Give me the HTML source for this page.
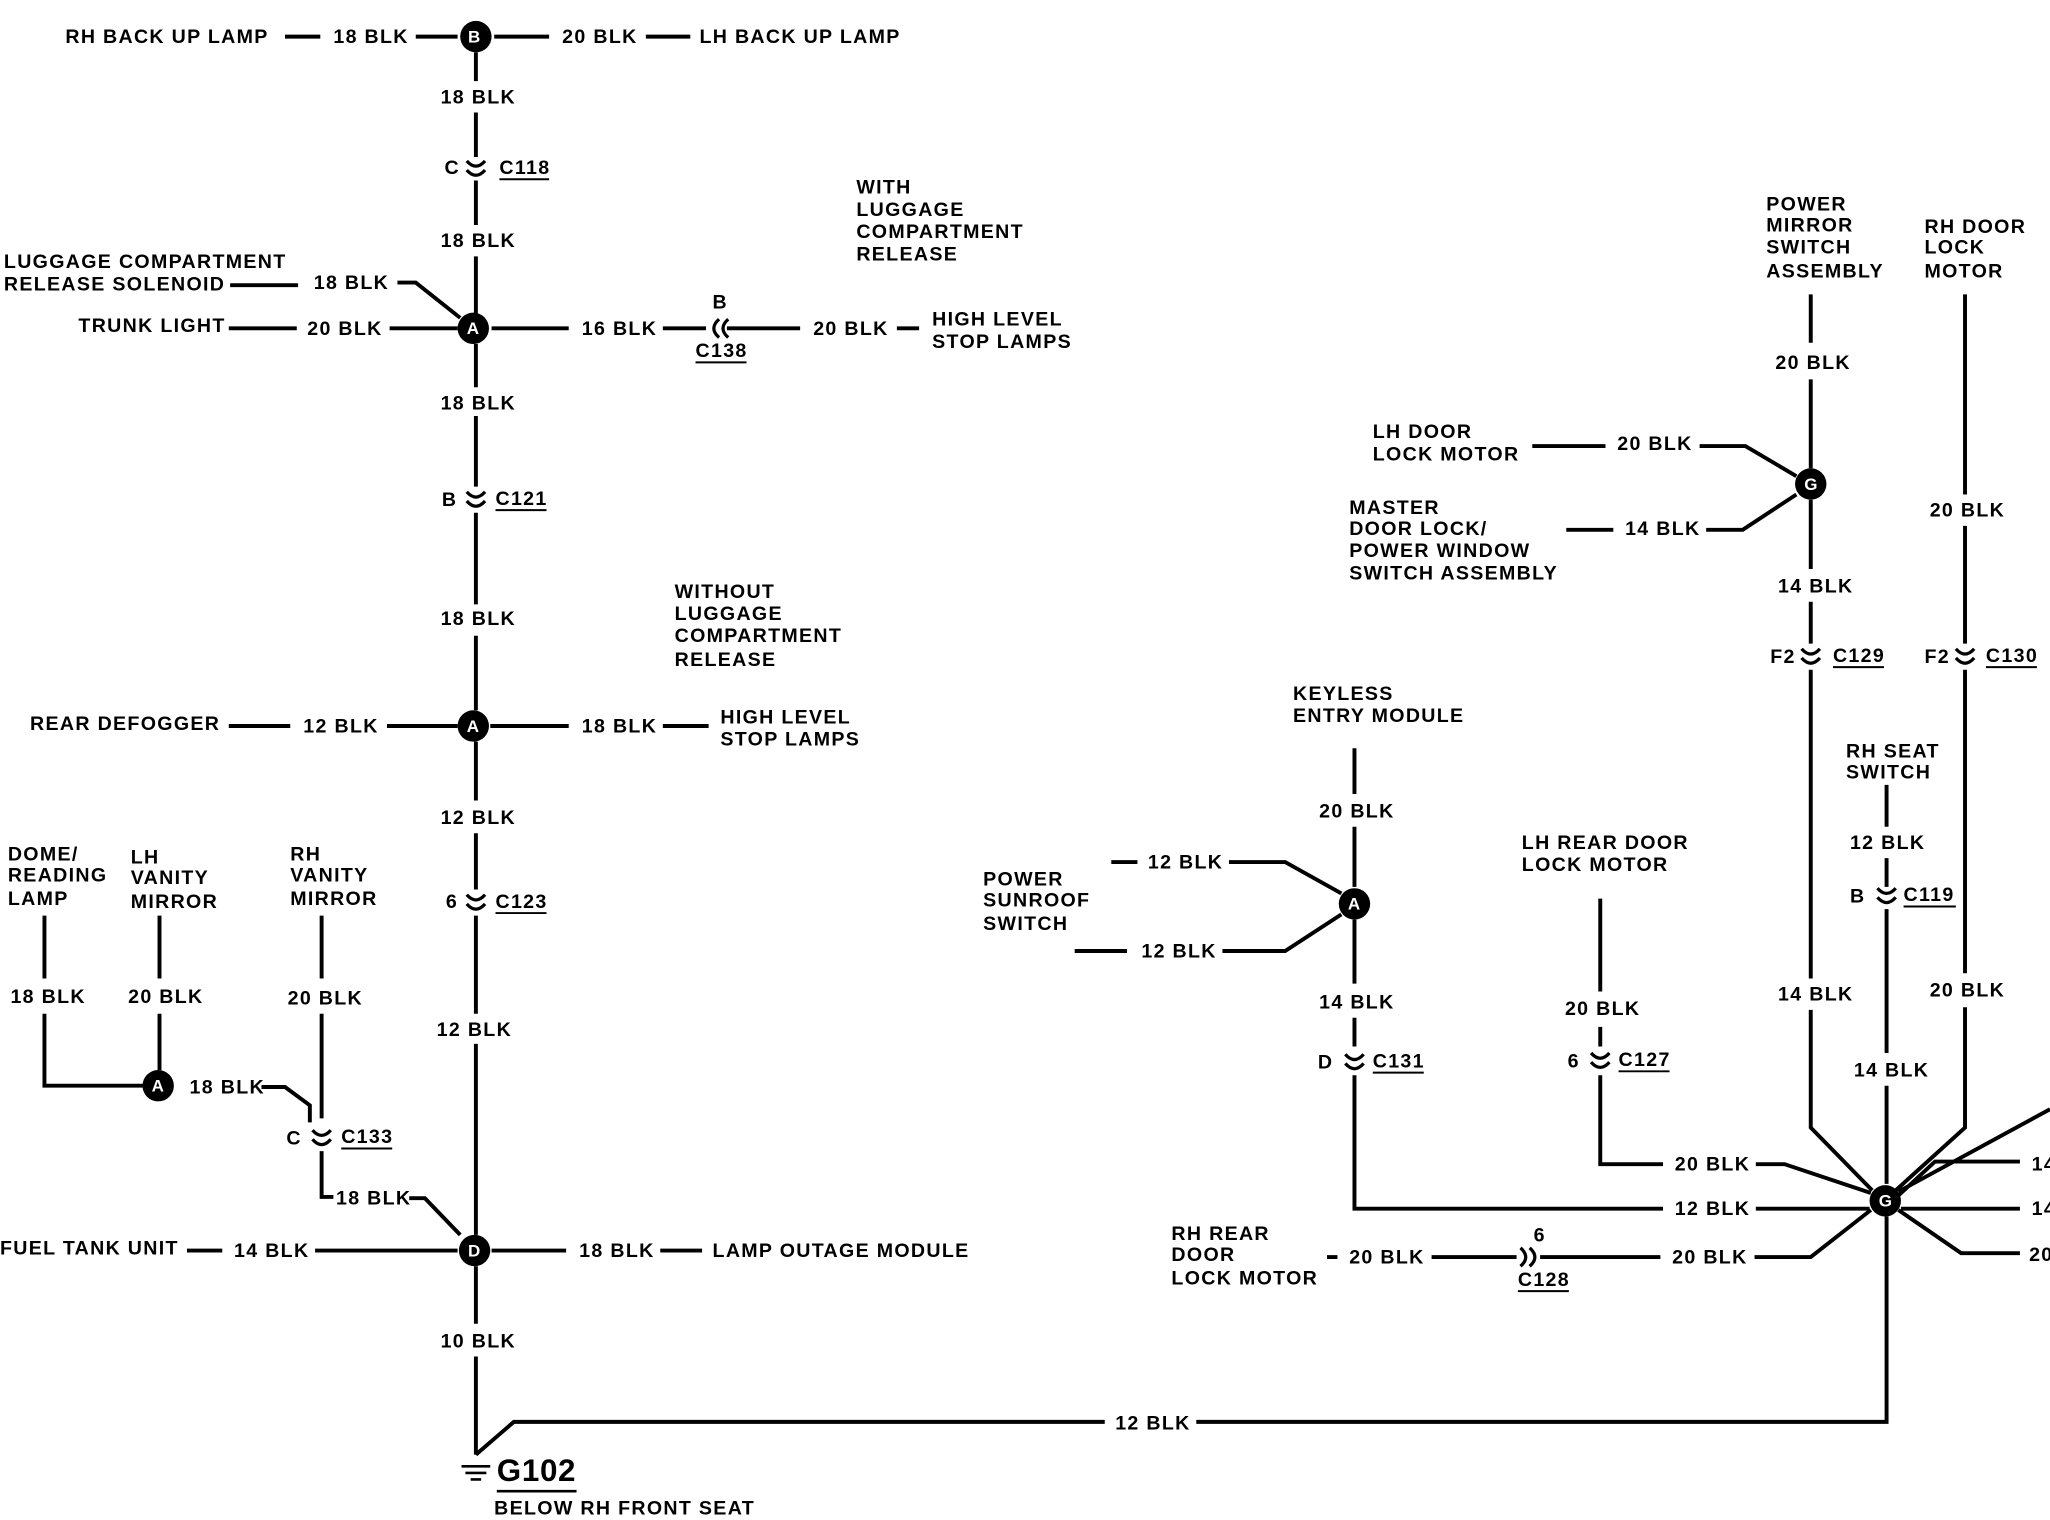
<!DOCTYPE html>
<html><head><meta charset="utf-8"><style>
html,body{margin:0;padding:0;background:#fff;}
svg{display:block;}
text{font-family:"Liberation Sans",sans-serif;font-weight:bold;font-size:15px;fill:#000;dominant-baseline:middle;letter-spacing:1px;}
.l{stroke:#000;stroke-width:3;fill:none;}
.c{stroke:#000;stroke-width:2.5;fill:none;}
</style></head><body>
<svg width="2050" height="1520" viewBox="0 0 1568 1162" preserveAspectRatio="none" xmlns="http://www.w3.org/2000/svg">
<rect width="1568" height="1162" fill="#fff"/>
<text x="50" y="29">RH BACK UP LAMP</text>
<path class="l" d="M218 28H245M318 28H350M378 28H420M494 28H528"/>
<text x="255" y="29">18 BLK</text><text x="430" y="29">20 BLK</text>
<text x="535" y="29">LH BACK UP LAMP</text>
<circle cx="364" cy="28" r="12"/><text x="358" y="29" style="fill:#fff;font-size:13px;letter-spacing:0">B</text>
<path class="l" d="M364 40V62M364 86V120M364 138V172M364 196V240M364 263V296M364 318V372M364 392V462M364 486V543M364 567V612M364 637V680M364 700V775M364 798V944M364 968V1012M364 1037V1112"/>
<text x="337" y="75">18 BLK</text>
<text x="340" y="129">C</text><text x="382" y="129">C118</text><path class="l" style="stroke-width:1.5" d="M382 137H420"/>
<text x="337" y="185">18 BLK</text>
<text x="337" y="309">18 BLK</text>
<text x="338" y="383">B</text><text x="379" y="382">C121</text><path class="l" style="stroke-width:1.5" d="M379 390H418"/>
<text x="337" y="474">18 BLK</text>
<text x="337" y="626">12 BLK</text>
<text x="341" y="690">6</text><text x="379" y="690">C123</text><path class="l" style="stroke-width:1.5" d="M379 698H418"/>
<text x="334" y="788">12 BLK</text>
<text x="337" y="1026">10 BLK</text>
<g class="c">
<path d="M357 123Q364 131 371 123M357 130Q364 138 371 130"/>
<path d="M357 376Q364 384 371 376M357 383Q364 391 371 383"/>
<path d="M357 684Q364 692 371 684M357 691Q364 699 371 691"/>
</g>
<circle cx="362" cy="251" r="12"/><text x="357" y="252" style="fill:#fff;font-size:13px;letter-spacing:0">A</text>
<text x="3" y="201">LUGGAGE COMPARTMENT</text><text x="3" y="218">RELEASE SOLENOID</text>
<path class="l" d="M176 218H228M304 216H318L352 243M175 251H227M298 251H350M376 251H435M507 251H540M556 251H612M686 251H703"/>
<text x="240" y="217">18 BLK</text>
<text x="60" y="250">TRUNK LIGHT</text><text x="235" y="252">20 BLK</text>
<text x="445" y="252">16 BLK</text>
<text x="545" y="232">B</text><path class="c" d="M550 244Q542 251 550 258M557 244Q549 251 557 258"/>
<text x="532" y="269">C138</text><path class="l" style="stroke-width:1.5" d="M532 277H571"/>
<text x="622" y="252">20 BLK</text>
<text x="713" y="245">HIGH LEVEL</text><text x="713" y="262">STOP LAMPS</text>
<text x="655" y="144">WITH</text><text x="655" y="161">LUGGAGE</text><text x="655" y="178">COMPARTMENT</text><text x="655" y="195">RELEASE</text>
<circle cx="362" cy="555" r="12"/><text x="357" y="556" style="fill:#fff;font-size:13px;letter-spacing:0">A</text>
<text x="516" y="453">WITHOUT</text><text x="516" y="470">LUGGAGE</text><text x="516" y="487">COMPARTMENT</text><text x="516" y="505">RELEASE</text>
<text x="23" y="554">REAR DEFOGGER</text>
<path class="l" d="M175 555H222M296 555H350M375 555H435M507 555H542"/>
<text x="232" y="556">12 BLK</text><text x="445" y="556">18 BLK</text>
<text x="551" y="549">HIGH LEVEL</text><text x="551" y="566">STOP LAMPS</text>
<circle cx="363" cy="956" r="12"/><text x="358" y="957" style="fill:#fff;font-size:13px;letter-spacing:0">D</text>
<text x="0" y="955">FUEL TANK UNIT</text>
<path class="l" d="M143 956H170M241 956H350M376 956H433M505 956H537"/>
<text x="179" y="957">14 BLK</text><text x="443" y="957">18 BLK</text>
<text x="545" y="957">LAMP OUTAGE MODULE</text>
<path class="l" d="M364 1112L393 1087H845M915 1087H1443V930"/>
<text x="853" y="1089">12 BLK</text>
<path class="l" style="stroke-width:2" d="M353 1121H375M356 1126H372M360 1131H368"/>
<text x="380" y="1126" style="font-size:24px;letter-spacing:0.5px">G102</text><path class="l" style="stroke-width:2" d="M380 1140H441"/>
<text x="378" y="1154">BELOW RH FRONT SEAT</text>
<text x="6" y="654">DOME/</text><text x="6" y="670">READING</text><text x="6" y="688">LAMP</text>
<text x="100" y="656">LH</text><text x="100" y="672">VANITY</text><text x="100" y="690">MIRROR</text>
<text x="222" y="654">RH</text><text x="222" y="670">VANITY</text><text x="222" y="688">MIRROR</text>
<path class="l" d="M34 700V748M34 775V830H110M122 700V748M122 775V818M246 700V748M246 775V855M246 880V915H255M200 831H218L237 845V858M313 916H325L352 944"/>
<text x="8" y="763">18 BLK</text><text x="98" y="763">20 BLK</text><text x="220" y="764">20 BLK</text>
<circle cx="121" cy="830" r="12"/><text x="116" y="831" style="fill:#fff;font-size:13px;letter-spacing:0">A</text>
<text x="145" y="832">18 BLK</text>
<text x="219" y="871">C</text><text x="261" y="870">C133</text><path class="l" style="stroke-width:1.5" d="M261 878H300"/>
<path class="c" d="M239 864Q246 872 253 864M239 871Q246 879 253 871"/>
<text x="257" y="917">18 BLK</text>
<text x="1351" y="157">POWER</text><text x="1351" y="173">MIRROR</text><text x="1351" y="190">SWITCH</text><text x="1351" y="208">ASSEMBLY</text>
<text x="1472" y="174">RH DOOR</text><text x="1472" y="190">LOCK</text><text x="1472" y="208">MOTOR</text>
<path class="l" d="M1385 225V262M1385 290V358M1385 382V435M1385 460V492M1385 512V748M1385 772V862L1432 910M1503 225V378M1503 402V492M1503 512V744M1503 770V862L1450 910M1443 600V632M1443 656V678M1443 695V805M1443 830V905"/>
<text x="1358" y="278">20 BLK</text>
<circle cx="1385" cy="370" r="12"/><text x="1380" y="371" style="fill:#fff;font-size:13px;letter-spacing:0">G</text>
<text x="1050" y="331">LH DOOR</text><text x="1050" y="348">LOCK MOTOR</text>
<path class="l" d="M1172 341H1228M1300 341H1335L1374 364M1198 405H1234M1305 405H1333L1374 378"/>
<text x="1237" y="340">20 BLK</text>
<text x="1032" y="389">MASTER</text><text x="1032" y="405">DOOR LOCK/</text><text x="1032" y="422">POWER WINDOW</text><text x="1032" y="439">SWITCH ASSEMBLY</text>
<text x="1243" y="405">14 BLK</text>
<text x="1360" y="449">14 BLK</text>
<text x="1354" y="503">F2</text><text x="1402" y="502">C129</text><path class="l" style="stroke-width:1.5" d="M1402 510H1441"/>
<text x="1476" y="391">20 BLK</text>
<text x="1472" y="503">F2</text><text x="1519" y="502">C130</text><path class="l" style="stroke-width:1.5" d="M1519 510H1558"/>
<text x="1360" y="761">14 BLK</text><text x="1476" y="758">20 BLK</text>
<text x="1412" y="575">RH SEAT</text><text x="1412" y="591">SWITCH</text>
<text x="1415" y="645">12 BLK</text>
<text x="1415" y="686">B</text><text x="1456" y="685">C119</text><path class="l" style="stroke-width:1.5" d="M1456 693H1496"/>
<text x="1418" y="819">14 BLK</text>
<g class="c">
<path d="M1378 496Q1385 504 1392 496M1378 503Q1385 511 1392 503"/>
<path d="M1496 496Q1503 504 1510 496M1496 503Q1503 511 1510 503"/>
<path d="M1436 679Q1443 687 1450 679M1436 686Q1443 694 1450 686"/>
<path d="M1029 806Q1036 814 1043 806M1029 813Q1036 821 1043 813"/>
<path d="M1217 805Q1224 813 1231 805M1217 812Q1224 820 1231 812"/>
</g>
<circle cx="1442" cy="918" r="12"/><text x="1437" y="919" style="fill:#fff;font-size:13px;letter-spacing:0">G</text>
<path class="l" d="M1452 911L1568 848M1452 914L1480 888H1545M1454 924H1545M1452 925L1500 958H1545"/>
<text x="1554" y="891">14</text><text x="1554" y="925">14</text><text x="1552" y="960">20</text>
<text x="1164" y="645">LH REAR DOOR</text><text x="1164" y="662">LOCK MOTOR</text>
<path class="l" d="M1224 687V758M1224 785V800M1224 822V890H1272M1343 890H1365L1431 912M1036 822V924H1272M1343 924H1430M1342 961H1385L1431 925M1015 961H1023M1095 961H1160M1178 961H1270"/>
<text x="1197" y="772">20 BLK</text>
<text x="1199" y="812">6</text><text x="1238" y="811">C127</text><path class="l" style="stroke-width:1.5" d="M1238 819H1277"/>
<text x="1281" y="891">20 BLK</text><text x="1281" y="925">12 BLK</text>
<text x="896" y="944">RH REAR</text><text x="896" y="960">DOOR</text><text x="896" y="978">LOCK MOTOR</text>
<text x="1032" y="962">20 BLK</text><text x="1279" y="962">20 BLK</text>
<text x="1173" y="945">6</text><path class="c" d="M1163 954Q1171 961 1163 968M1170 954Q1178 961 1170 968"/>
<text x="1161" y="979">C128</text><path class="l" style="stroke-width:1.5" d="M1161 987H1200"/>
<text x="989" y="531">KEYLESS</text><text x="989" y="548">ENTRY MODULE</text>
<path class="l" d="M1036 572V607M1036 632V678M1036 703V752M1036 778V800M850 659H870M940 659H983L1026 683M822 727H862M935 727H983L1026 699"/>
<text x="1009" y="621">20 BLK</text>
<circle cx="1036" cy="691" r="12"/><text x="1031" y="692" style="fill:#fff;font-size:13px;letter-spacing:0">A</text>
<text x="752" y="673">POWER</text><text x="752" y="689">SUNROOF</text><text x="752" y="707">SWITCH</text>
<text x="878" y="660">12 BLK</text><text x="873" y="728">12 BLK</text>
<text x="1009" y="767">14 BLK</text>
<text x="1008" y="813">D</text><text x="1050" y="812">C131</text><path class="l" style="stroke-width:1.5" d="M1050 820H1089"/>
</svg>
</body></html>
